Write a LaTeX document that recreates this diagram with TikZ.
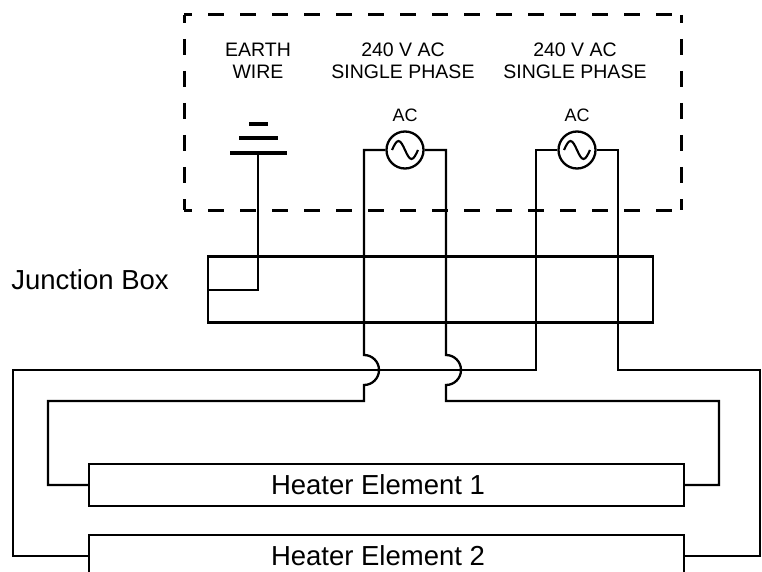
\documentclass[tikz,border=0pt]{standalone}
\usepackage{fontspec}
\setmainfont{Liberation Sans}
\begin{document}
\begin{tikzpicture}[x=1pt,y=-1pt,
  wire/.style={line width=2.3pt,line join=miter},
  plate/.style={line width=4pt},
  enclosure/.style={line width=3pt,dash pattern=on 16pt off 16pt,dash phase=8pt},
  boxnode/.style={draw,line width=2.3pt,rectangle,inner sep=0pt},
  bigtext/.style={font=\fontsize{27.5}{32}\selectfont,inner sep=0pt},
  toplabel/.style={font=\fontsize{19.5}{22.5}\selectfont,align=center,inner sep=0pt},
  aclabel/.style={font=\fontsize{18}{20}\selectfont,inner sep=0pt},
  source/.style={draw,circle,line width=2.3pt,minimum size=37pt,inner sep=0pt}]
\useasboundingbox (0,0) rectangle (762,572);

% dashed enclosure
\coordinate (e1) at (184,15);
\coordinate (e2) at (681,15);
\coordinate (e3) at (681,210);
\coordinate (e4) at (184,210);
\draw[enclosure] (e1) -- (e2);
\draw[enclosure] (e1) -- (e4);
\draw[enclosure] (e4) -- (e3);
\draw[enclosure] (e2) -- (e3);

% labels
\node[toplabel] (lbearth) at (258,61) {EARTH\\WIRE};
\node[toplabel] (lbsrcA) at (403,61) {240 V AC\\SINGLE PHASE};
\node[toplabel] (lbsrcB) at (575,61) {240 V AC\\SINGLE PHASE};

% sources
\node[source] (srcA) at (405,150) {};
\node[source] (srcB) at (577,150) {};
\node[aclabel] (acA) at (405,115) {AC};
\node[aclabel] (acB) at (577,115) {AC};
\foreach \s in {srcA,srcB}{
  \draw[line width=2.1pt] ([xshift=-13pt]\s.center) sin ([xshift=-6.5pt,yshift=9pt]\s.center)
    cos (\s.center) sin ([xshift=6.5pt,yshift=-9pt]\s.center) cos ([xshift=13pt]\s.center);
}

% earth symbol
\coordinate (gA1) at (230,153); \coordinate (gA2) at (287,153);
\coordinate (gB1) at (239,138); \coordinate (gB2) at (278,138);
\coordinate (gC1) at (249,124); \coordinate (gC2) at (268,124);
\draw[plate] (gA1) -- (gA2);
\draw[plate] (gB1) -- (gB2);
\draw[plate] (gC1) -- (gC2);
\coordinate (gtop) at (258,153);

% boxes
\node[boxnode,minimum width=445pt,minimum height=66pt] (jbox) at (430.5,289.5) {};
\node[bigtext] (jlabel) at (90,280) {Junction Box};
\node[boxnode,minimum width=595pt,minimum height=42pt] (heatA) at (386.5,485) {};
\node[boxnode,minimum width=595pt,minimum height=42pt] (heatB) at (386.5,556) {};
\node[bigtext] (heatAtext) at (378,485) {Heater Element 1};
\node[bigtext] (heatBtext) at (378,556) {Heater Element 2};

% earth wire
\draw[wire] (gtop) -- (258,290) -- (jbox.west |- 0,290);

% source A left wire
\coordinate (aL) at (364,150);
\draw[wire] (srcA.west) -- (aL) -- (364,355) arc[start angle=90,end angle=-90,radius=15pt]
  -- (364,401) -- (48,401) -- (48,485) -- (heatA.west);
% source A right wire
\coordinate (aR) at (446,150);
\draw[wire] (srcA.east) -- (aR) -- (446,355) arc[start angle=90,end angle=-90,radius=15pt]
  -- (446,401) -- (719,401) -- (719,485) -- (heatA.east);
% source B left wire
\coordinate (bL) at (536,150);
\draw[wire] (srcB.west) -- (bL) -- (536,370) -- (13,370) -- (13,556) -- (heatB.west);
% source B right wire
\coordinate (bR) at (618,150);
\draw[wire] (srcB.east) -- (bR) -- (618,370) -- (760,370) -- (760,556) -- (heatB.east);
\end{tikzpicture}
\end{document}
